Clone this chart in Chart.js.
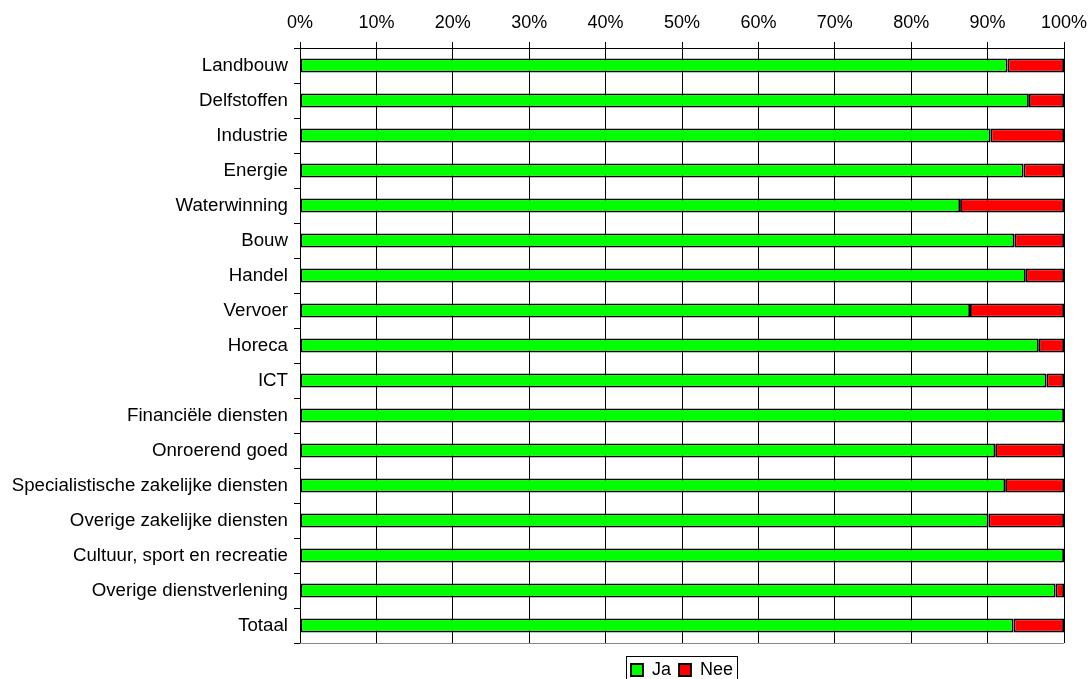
<!DOCTYPE html>
<html>
<head>
<meta charset="utf-8">
<script src="https://cdn.jsdelivr.net/npm/chart.js@4"></script>
<style>
  html, body { margin: 0; padding: 0; background: #fff; }
  #wrap { width: 1089px; height: 679px; }
</style>
</head>
<body>
<div id="wrap"><canvas id="chart" width="1089" height="679"></canvas></div>
<script>
const categories = [
    "Landbouw", "Delfstoffen", "Industrie", "Energie", "Waterwinning", "Bouw",
    "Handel", "Vervoer", "Horeca", "ICT", "Financiële diensten", "Onroerend goed",
    "Specialistische zakelijke diensten", "Overige zakelijke diensten",
    "Cultuur, sport en recreatie", "Overige dienstverlening", "Totaal"
];
const ja  = [92.6, 95.4, 90.4, 94.7, 86.4, 93.5, 95.0, 87.7, 96.7, 97.7, 100, 91.0, 92.3, 90.1, 100, 98.9, 93.4];
const nee = [7.4, 4.6, 9.6, 5.3, 13.6, 6.5, 5.0, 12.3, 3.3, 2.3, 0, 9.0, 7.7, 9.9, 0, 1.1, 6.6];
const xTicks = [0, 10, 20, 30, 40, 50, 60, 70, 80, 90, 100];

Chart.defaults.font.family = "'Liberation Sans', Arial, sans-serif";
Chart.defaults.font.size = 18;
Chart.defaults.color = "#000";

const legendPad = 8;

// centre the legend under the plot (hit boxes follow in the legend's afterUpdate),
// then a box round it and a grey line along the bottom of the plot
const frame = {
    id: 'legendFrame',
    afterLayout(chart) {
        const a = chart.chartArea;
        const lg = chart.legend;
        const dx = (a.left + a.right) / 2 - (lg.left + lg.right) / 2;
        const dy = 661 - (lg.top + legendPad);
        lg.left += dx;
        lg.right += dx;
        lg.top += dy;
        lg.bottom += dy;
    },
    afterDraw(chart) {
        const ctx = chart.ctx;
        const a = chart.chartArea;
        ctx.save();
        ctx.strokeStyle = '#888';
        ctx.lineWidth = 1;
        ctx.beginPath();
        ctx.moveTo(a.left, Math.round(a.bottom) + 0.5);
        ctx.lineTo(a.right, Math.round(a.bottom) + 0.5);
        ctx.stroke();
        const hb = chart.legend.legendHitBoxes;
        const first = hb[0];
        const last = hb[hb.length - 1];
        const x0 = Math.round(first.left) - 4.5;
        const x1 = Math.round(last.left + last.width) + 4.5;
        const y0 = Math.round(first.top) - 4.5;
        const y1 = Math.round(first.top + first.height) + 6.5;
        ctx.strokeStyle = '#000';
        ctx.strokeRect(x0, y0, x1 - x0, y1 - y0);
        ctx.restore();
    }
};

new Chart(document.getElementById('chart').getContext('2d'), {
    type: 'bar',
    data: {
        labels: categories,
        datasets: [
            { label: 'Ja', data: ja, backgroundColor: '#00ff00', borderColor: '#000', borderWidth: 1.8, borderSkipped: false },
            { label: 'Nee', data: nee, backgroundColor: '#ff0000', borderColor: '#000', borderWidth: 1.8, borderSkipped: false }
        ]
    },
    options: {
        indexAxis: 'y',
        responsive: false,
        animation: false,
        layout: { padding: { left: 0, right: 0, top: 0, bottom: 0 } },
        datasets: { bar: { barPercentage: 0.4, categoryPercentage: 1 } },
        scales: {
            x: {
                position: 'top',
                stacked: true,
                min: 0,
                max: 100,
                afterBuildTicks: (axis) => { axis.ticks = xTicks.map(v => ({ value: v })); },
                afterFit: (axis) => { axis.height = 48; axis.paddingRight = 25; axis.paddingLeft = 0; },
                ticks: { callback: (v) => v + '%', padding: 8, maxRotation: 0 },
                grid: { color: '#000', lineWidth: 1, tickLength: 6 },
                border: { color: '#000' }
            },
            y: {
                stacked: true,
                afterFit: (axis) => { axis.width = 300; },
                ticks: { padding: 6, font: { size: 18.7 } },
                grid: { drawOnChartArea: false, color: '#000', tickLength: 6 },
                border: { color: '#000' }
            }
        },
        plugins: {
            legend: {
                position: 'bottom',
                labels: { boxWidth: 12, boxHeight: 12, padding: legendPad, color: '#000' }
            },
            tooltip: { enabled: false }
        }
    },
    plugins: [frame]
});
</script>
</body>
</html>
